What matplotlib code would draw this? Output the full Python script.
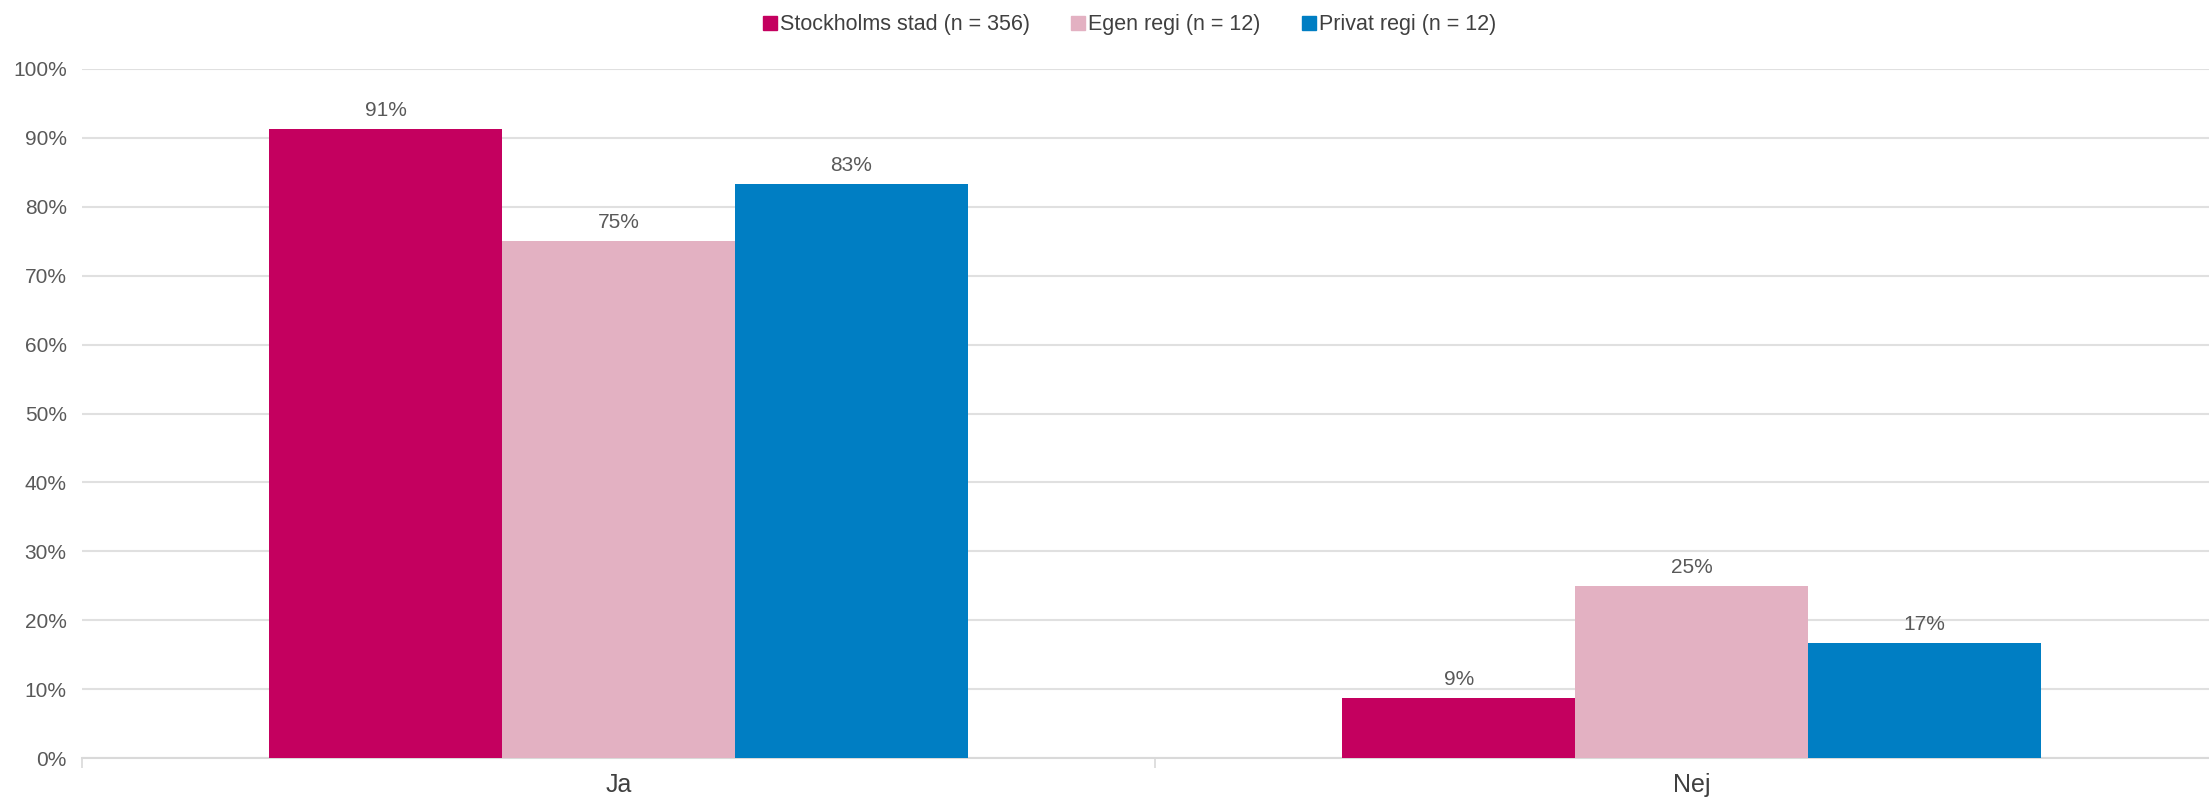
import matplotlib
matplotlib.use("Agg")
import matplotlib.pyplot as plt
import numpy as np
from matplotlib.lines import Line2D

categories = ["Ja", "Nej"]
series_names = ["Stockholms stad (n = 356)", "Egen regi (n = 12)", "Privat regi (n = 12)"]
stockholm = [91.3, 8.7]
egen = [75.0, 25.0]
privat = [83.3, 16.7]
colors = ["#C4005F", "#E3B1C2", "#007EC3"]
yticks = [0, 10, 20, 30, 40, 50, 60, 70, 80, 90, 100]

plt.rcParams['font.family'] = ['Liberation Sans', 'DejaVu Sans']

fig = plt.figure(figsize=(22.09, 8), dpi=100)
ax = fig.add_axes([0.03712, 0.0525, 0.96288, 0.86125])

x = np.arange(len(categories))
w = 0.217
data = [stockholm, egen, privat]
for i, (vals, c) in enumerate(zip(data, colors)):
    pos = x + (i - 1) * w
    bars = ax.bar(pos, vals, width=w, color=c, zorder=3, linewidth=0)
    for b, v in zip(bars, vals):
        ax.text(b.get_x() + b.get_width() / 2, v + 1.3, f"{round(v):d}%",
                ha='center', va='bottom', fontsize=15, color='#595959',
                family=['Liberation Sans Narrow', 'Liberation Sans', 'DejaVu Sans'])

ax.set_xlim(-0.5, -0.5 + 2127 / 1073)
ax.set_ylim(0, 100)
ax.set_yticks(yticks)
ax.set_yticklabels([f"{t}%" for t in yticks], fontsize=15, color='#595959')
ax.tick_params(axis='y', length=0, pad=11)
ax.set_xticks(x)
ax.set_xticklabels(categories, fontsize=18, color='#404040')
ax.tick_params(axis='x', length=0, pad=11)
ax.set_xticks([-0.5, 0.5], minor=True)
ax.tick_params(axis='x', which='minor', length=7, color='#D9D9D9', width=1.2)

ax.grid(axis='y', color='#E0E0E0', linewidth=1.5, zorder=0)
for s in ['top', 'right', 'left']:
    ax.spines[s].set_visible(False)
ax.spines['bottom'].set_color('#D9D9D9')
ax.spines['bottom'].set_linewidth(1.5)

handles = [Line2D([0], [0], marker='s', linestyle='none', markersize=10,
                  markerfacecolor=c, markeredgecolor=c) for c in colors]
fig.legend(handles, series_names, loc='center', bbox_to_anchor=(0.5107, 0.969),
           ncol=3, frameon=False, handletextpad=0.0,
           columnspacing=1.8, handlelength=0.9,
           prop={'family': ['Liberation Sans Narrow', 'Liberation Sans', 'DejaVu Sans'], 'size': 15.5},
           labelcolor='#404040')

fig.savefig("out.png", dpi=100)
